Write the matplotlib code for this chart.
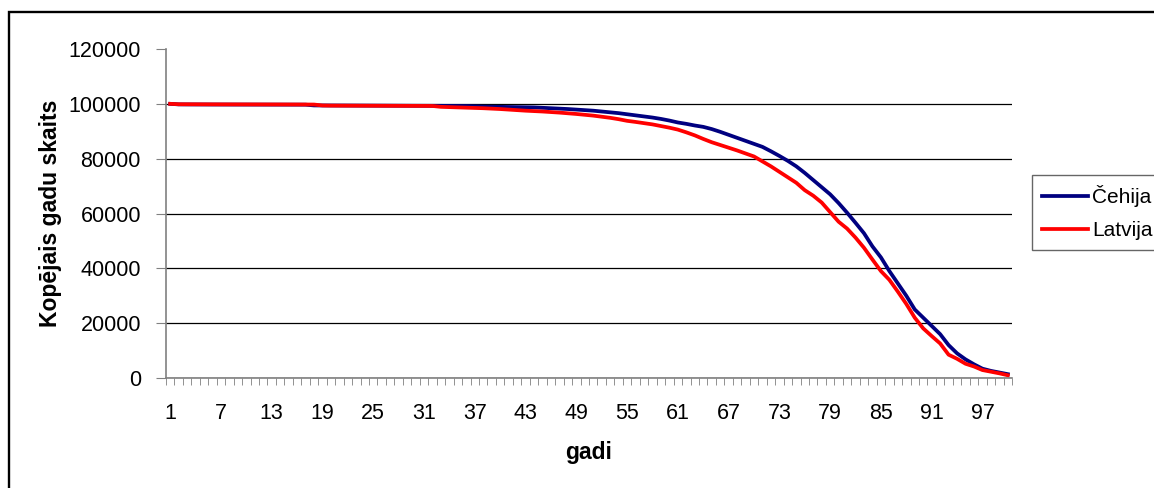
import matplotlib
matplotlib.use("Agg")
import matplotlib.pyplot as plt
from matplotlib.patches import Rectangle

plt.rcParams['font.family'] = ['Liberation Sans', 'DejaVu Sans']

# vecums (gadi) 1..100 un dzīvo skaits no 100000
gadi = list(range(1, 101))

cehija = [
    100000, 99800, 99780, 99770, 99760, 99750, 99745, 99740, 99735, 99730,
    99725, 99720, 99715, 99710, 99705, 99700, 99690, 99420, 99400, 99390,
    99380, 99370, 99360, 99350, 99340, 99330, 99320, 99310, 99300, 99290,
    99280, 99270, 99260, 99240, 99220, 99200, 99100, 99000, 98950, 98900,
    98850, 98800, 98750, 98700, 98550, 98400, 98250, 98100, 97900, 97700,
    97500, 97200, 96900, 96600, 96200, 95800, 95400, 95000, 94500, 93900,
    93200, 92700, 92100, 91600, 90800, 89800, 88700, 87600, 86500, 85400,
    84300, 82700, 81000, 79200, 77200, 74800, 72200, 69600, 67000, 63800,
    60300, 56600, 52800, 48000, 44000, 39000, 34500, 30000, 25000, 22000,
    19000, 16000, 12000, 9000, 6800, 5000, 3400, 2600, 2000, 1400,
]

latvija = [
    100000, 99850, 99840, 99830, 99820, 99810, 99800, 99795, 99790, 99785,
    99780, 99775, 99770, 99765, 99760, 99755, 99750, 99740, 99400, 99350,
    99340, 99330, 99320, 99310, 99300, 99290, 99280, 99270, 99260, 99250,
    99240, 99220, 98900, 98800, 98700, 98600, 98500, 98400, 98250, 98100,
    97900, 97700, 97500, 97350, 97200, 97000, 96800, 96550, 96300, 96000,
    95700, 95300, 94900, 94400, 93800, 93400, 92950, 92500, 91900, 91300,
    90600, 89600, 88500, 87200, 86000, 85000, 84000, 83000, 81900, 80800,
    79000, 77200, 75200, 73200, 71200, 68500, 66500, 64000, 60500, 57000,
    54500, 51200, 47500, 43200, 39000, 35800, 31500, 27000, 22000, 18100,
    15300, 12600, 8500, 7000, 5200, 4200, 2900, 2300, 1700, 1000,
]

x_labels = [str(g) for g in gadi[::6]]

fig = plt.figure(figsize=(11.54, 4.88), dpi=100)
ax = fig.add_axes([0.1438, 0.2254, 0.7332, 0.6742])

pos = list(range(len(gadi)))
ax.plot(pos, cehija, color='#000080', lw=2.7, label='Čehija', solid_joinstyle='round')
ax.plot(pos, latvija, color='#FF0000', lw=2.7, label='Latvija', solid_joinstyle='round')

ax.set_xlim(-0.5, len(gadi) - 0.5)
ax.set_ylim(0, 120000)
ax.set_yticks(range(0, 120001, 20000))
ax.set_xticks(pos[::6])
ax.set_xticklabels(x_labels)
ax.set_xticks([p - 0.5 for p in pos] + [pos[-1] + 0.5], minor=True)

ax.tick_params(axis='x', which='major', length=0, pad=18, labelsize=15.5)
ax.tick_params(axis='x', which='minor', length=5, color='#808080', direction='out')
ax.tick_params(axis='y', which='major', length=7, color='#808080', pad=11, labelsize=15.5)

ax.grid(axis='y', color='black', lw=0.9)
ax.yaxis.get_gridlines()[-1].set_visible(False)
ax.set_axisbelow(True)

for s in ('top', 'right'):
    ax.spines[s].set_visible(False)
for s in ('left', 'bottom'):
    ax.spines[s].set_color('#808080')
    ax.spines[s].set_linewidth(1.2)

ax.set_xlabel('gadi', fontsize=16.5, fontweight='bold', labelpad=12)
ax.set_ylabel('Kopējais gadu skaits', fontsize=16.5, fontweight='bold', labelpad=5)

leg = fig.legend(loc='upper left', bbox_to_anchor=(1032 / 1154, 1 - 175 / 488),
                 fontsize=15, frameon=True, fancybox=False, borderpad=0.5,
                 handlelength=2.2, handletextpad=0.2, labelspacing=0.65,
                 borderaxespad=0)
leg.get_frame().set_edgecolor('#404040')
leg.get_frame().set_linewidth(1.0)

# ramis ap visu diagrammu
fig.patches.append(Rectangle((9 / 1154, -0.05), 1.2, 1 - 12 / 488 + 0.05,
                             transform=fig.transFigure, fill=False,
                             edgecolor='black', lw=1.7))

fig.savefig('out.png', dpi=100)
